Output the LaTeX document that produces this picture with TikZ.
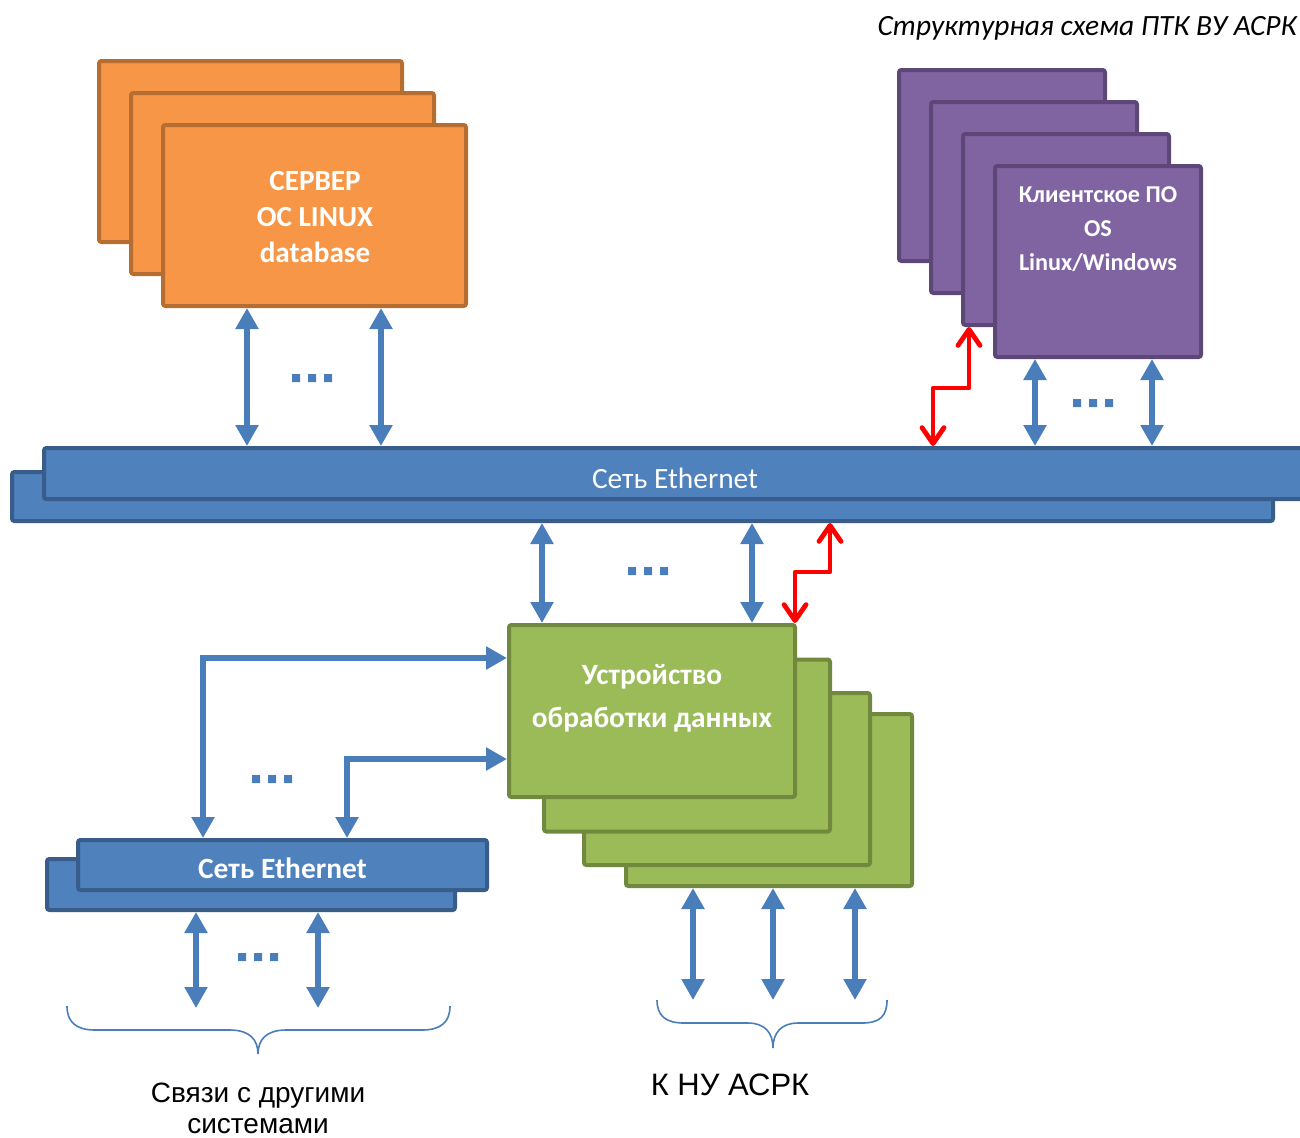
\documentclass[tikz,border=0pt]{standalone}
\usepackage{fontspec}
\setmainfont{Carlito}
\newfontfamily\arialf{Liberation Sans}
\usetikzlibrary{arrows.meta}
\definecolor{orfill}{HTML}{F79646}
\definecolor{ordraw}{HTML}{B66D31}
\definecolor{pufill}{HTML}{8064A2}
\definecolor{pudraw}{HTML}{5C4776}
\definecolor{grfill}{HTML}{9BBB59}
\definecolor{grdraw}{HTML}{71893F}
\definecolor{blfill}{HTML}{4F81BD}
\definecolor{bldraw}{HTML}{385D8A}
\definecolor{arblue}{HTML}{4A7EBB}
\definecolor{redc}{HTML}{FF0000}
\begin{document}
\begin{tikzpicture}[x=0.5pt,y=-0.5pt,
  box/.style={rectangle, line width=2pt, rounded corners=1.2pt, inner sep=0pt},
  obox/.style={box, fill=orfill, draw=ordraw, minimum width=151.5pt, minimum height=90.5pt},
  pbox/.style={box, fill=pufill, draw=pudraw, minimum width=103pt, minimum height=95.5pt},
  gbox/.style={box, fill=grfill, draw=grdraw, minimum width=143pt, minimum height=86pt},
  barbox/.style={box, fill=blfill, draw=bldraw},
  wtext/.style={text=white, align=center, inner sep=0pt},
  barrow/.style={draw=arblue, line width=3.3pt,
    {Triangle[length=10.5pt,width=11pt]}-{Triangle[length=10.5pt,width=11pt]}},
  redarrow/.style={draw=redc, line width=2.4pt, line cap=round, line join=round,
    {Straight Barb[length=8pt,width=11pt,round]}-{Straight Barb[length=8pt,width=11pt,round]}},
  bracepath/.style={draw=arblue, line width=0.8pt},
  dots/.pic={\fill[arblue] (-20,-4) rectangle (-12,4) (-4,-4) rectangle (4,4) (12,-4) rectangle (20,4);}
]
\useasboundingbox (0,0) rectangle (1300,1137);
\clip (0,0) rectangle (1300,1137);

% title
\node[anchor=base east, inner sep=0pt, font=\fontsize{14.7}{17}\selectfont\itshape] (title) at (1297,35) {Структурная схема ПТК ВУ АСРК};

% main Ethernet bar
\node[barbox, minimum width=630.5pt, minimum height=24.5pt] (netb) at (642.5,496.5) {};
\node[barbox, minimum width=638pt, minimum height=25.5pt] (net) at (682,473.5) {};
\node[wtext, anchor=base, font=\fontsize{14.7}{17}\selectfont] (netlbl) at (675,488) {Сеть Ethernet};

% servers
\node[obox] (s1) at (250.5,151.5) {};
\node[obox] (s2) at (282.5,183.5) {};
\node[obox] (s3) at (314.5,215.5) {};
\node[wtext, font=\fontsize{14.6}{18}\selectfont\bfseries] (s3lbl) at (315,217) {СЕРВЕР\\ОС LINUX\\database};

% clients
\node[pbox] (p1) at (1002,165.5) {};
\node[pbox] (p2) at (1034,197.5) {};
\node[pbox] (p3) at (1066,229.5) {};
\node[pbox] (p4) at (1098,261.5) {};
\node[wtext, font=\fontsize{12.1}{17}\selectfont\bfseries] (p4lbl) at (1098,229.5) {Клиентское ПО\\OS\\Linux/Windows};

% processing devices
\node[gbox] (g4) at (769,800) {};
\node[gbox] (g3) at (727,779) {};
\node[gbox] (g2) at (687,745.5) {};
\node[gbox] (g1) at (652,711) {};
\node[wtext, font=\fontsize{14.7}{21.5}\selectfont\bfseries] (g1lbl) at (652,698) {Устройство\\обработки данных};

% small Ethernet bar
\node[barbox, minimum width=204pt, minimum height=25.5pt] (sb) at (251,884.5) {};
\node[barbox, minimum width=204.5pt, minimum height=25pt] (sf) at (282.5,865) {};
\node[wtext, anchor=base, font=\fontsize{14.7}{17}\selectfont\bfseries] (sflbl) at (282.5,878) {Сеть Ethernet};

% coordinates
\coordinate (t1) at (247,0); \coordinate (t2) at (381,0);
\coordinate (u1) at (1035,0); \coordinate (u2) at (1152,0);
\coordinate (r1) at (969,388); \coordinate (r2) at (933,388);
\coordinate (d1) at (542,0); \coordinate (d2) at (752,0);
\coordinate (r3) at (830,572); \coordinate (r4) at (795,572);
\coordinate (l1) at (203,658); \coordinate (l2) at (347,759);
\coordinate (b1) at (196,1008); \coordinate (b2) at (318,1008);
\coordinate (e1) at (693,1000); \coordinate (e2) at (773,1000); \coordinate (e3) at (855,1000);

% connectors
\draw[barrow] (s3.south -| t1) -- (net.north -| t1);
\draw[barrow] (s3.south -| t2) -- (net.north -| t2);
\draw[barrow] (p4.south -| u1) -- (net.north -| u1);
\draw[barrow] (p4.south -| u2) -- (net.north -| u2);
\draw[redarrow] (p3.south -| r1) -- (r1) -- (r2) -- (net.north -| r2);
\draw[barrow] (netb.south -| d1) -- (g1.north -| d1);
\draw[barrow] (netb.south -| d2) -- (g1.north -| d2);
\draw[redarrow] (netb.south -| r3) -- (r3) -- (r4) -- (g1.north -| r4);
\draw[barrow] (sf.north -| l1) |- (g1.west |- l1);
\draw[barrow] (sf.north -| l2) |- (g1.west |- l2);
\draw[barrow] (sb.south -| b1) -- (b1);
\draw[barrow] (sb.south -| b2) -- (b2);
\draw[barrow] (g4.south -| e1) -- (e1);
\draw[barrow] (g4.south -| e2) -- (e2);
\draw[barrow] (g4.south -| e3) -- (e3);

% dots
\pic at (312,378) {dots};
\pic at (1093,403) {dots};
\pic at (648,571) {dots};
\pic at (272,779) {dots};
\pic at (258,957) {dots};

% braces
\draw[bracepath] (67,1006) .. controls (67,1022) and (76,1030) .. (95,1030) -- (230,1030) .. controls (250,1030) and (258,1040) .. (258,1054) .. controls (258,1040) and (266,1030) .. (286,1030) -- (422,1030) .. controls (441,1030) and (450,1022) .. (450,1006);
\draw[bracepath] (657,1000) .. controls (657,1016) and (666,1023) .. (684,1023) -- (748,1023) .. controls (765,1023) and (773,1033) .. (773,1048) .. controls (773,1033) and (781,1023) .. (798,1023) -- (862,1023) .. controls (880,1023) and (887,1016) .. (887,1000);

% bottom labels
\node[align=center, inner sep=0pt, font=\arialf\fontsize{14}{15.5}\selectfont] (lbl1) at (258,1108) {Связи с другими\\системами};
\node[anchor=base, inner sep=0pt, font=\arialf\fontsize{15.5}{17}\selectfont] (lbl2) at (730,1095) {К НУ АСРК};
\end{tikzpicture}
\end{document}
